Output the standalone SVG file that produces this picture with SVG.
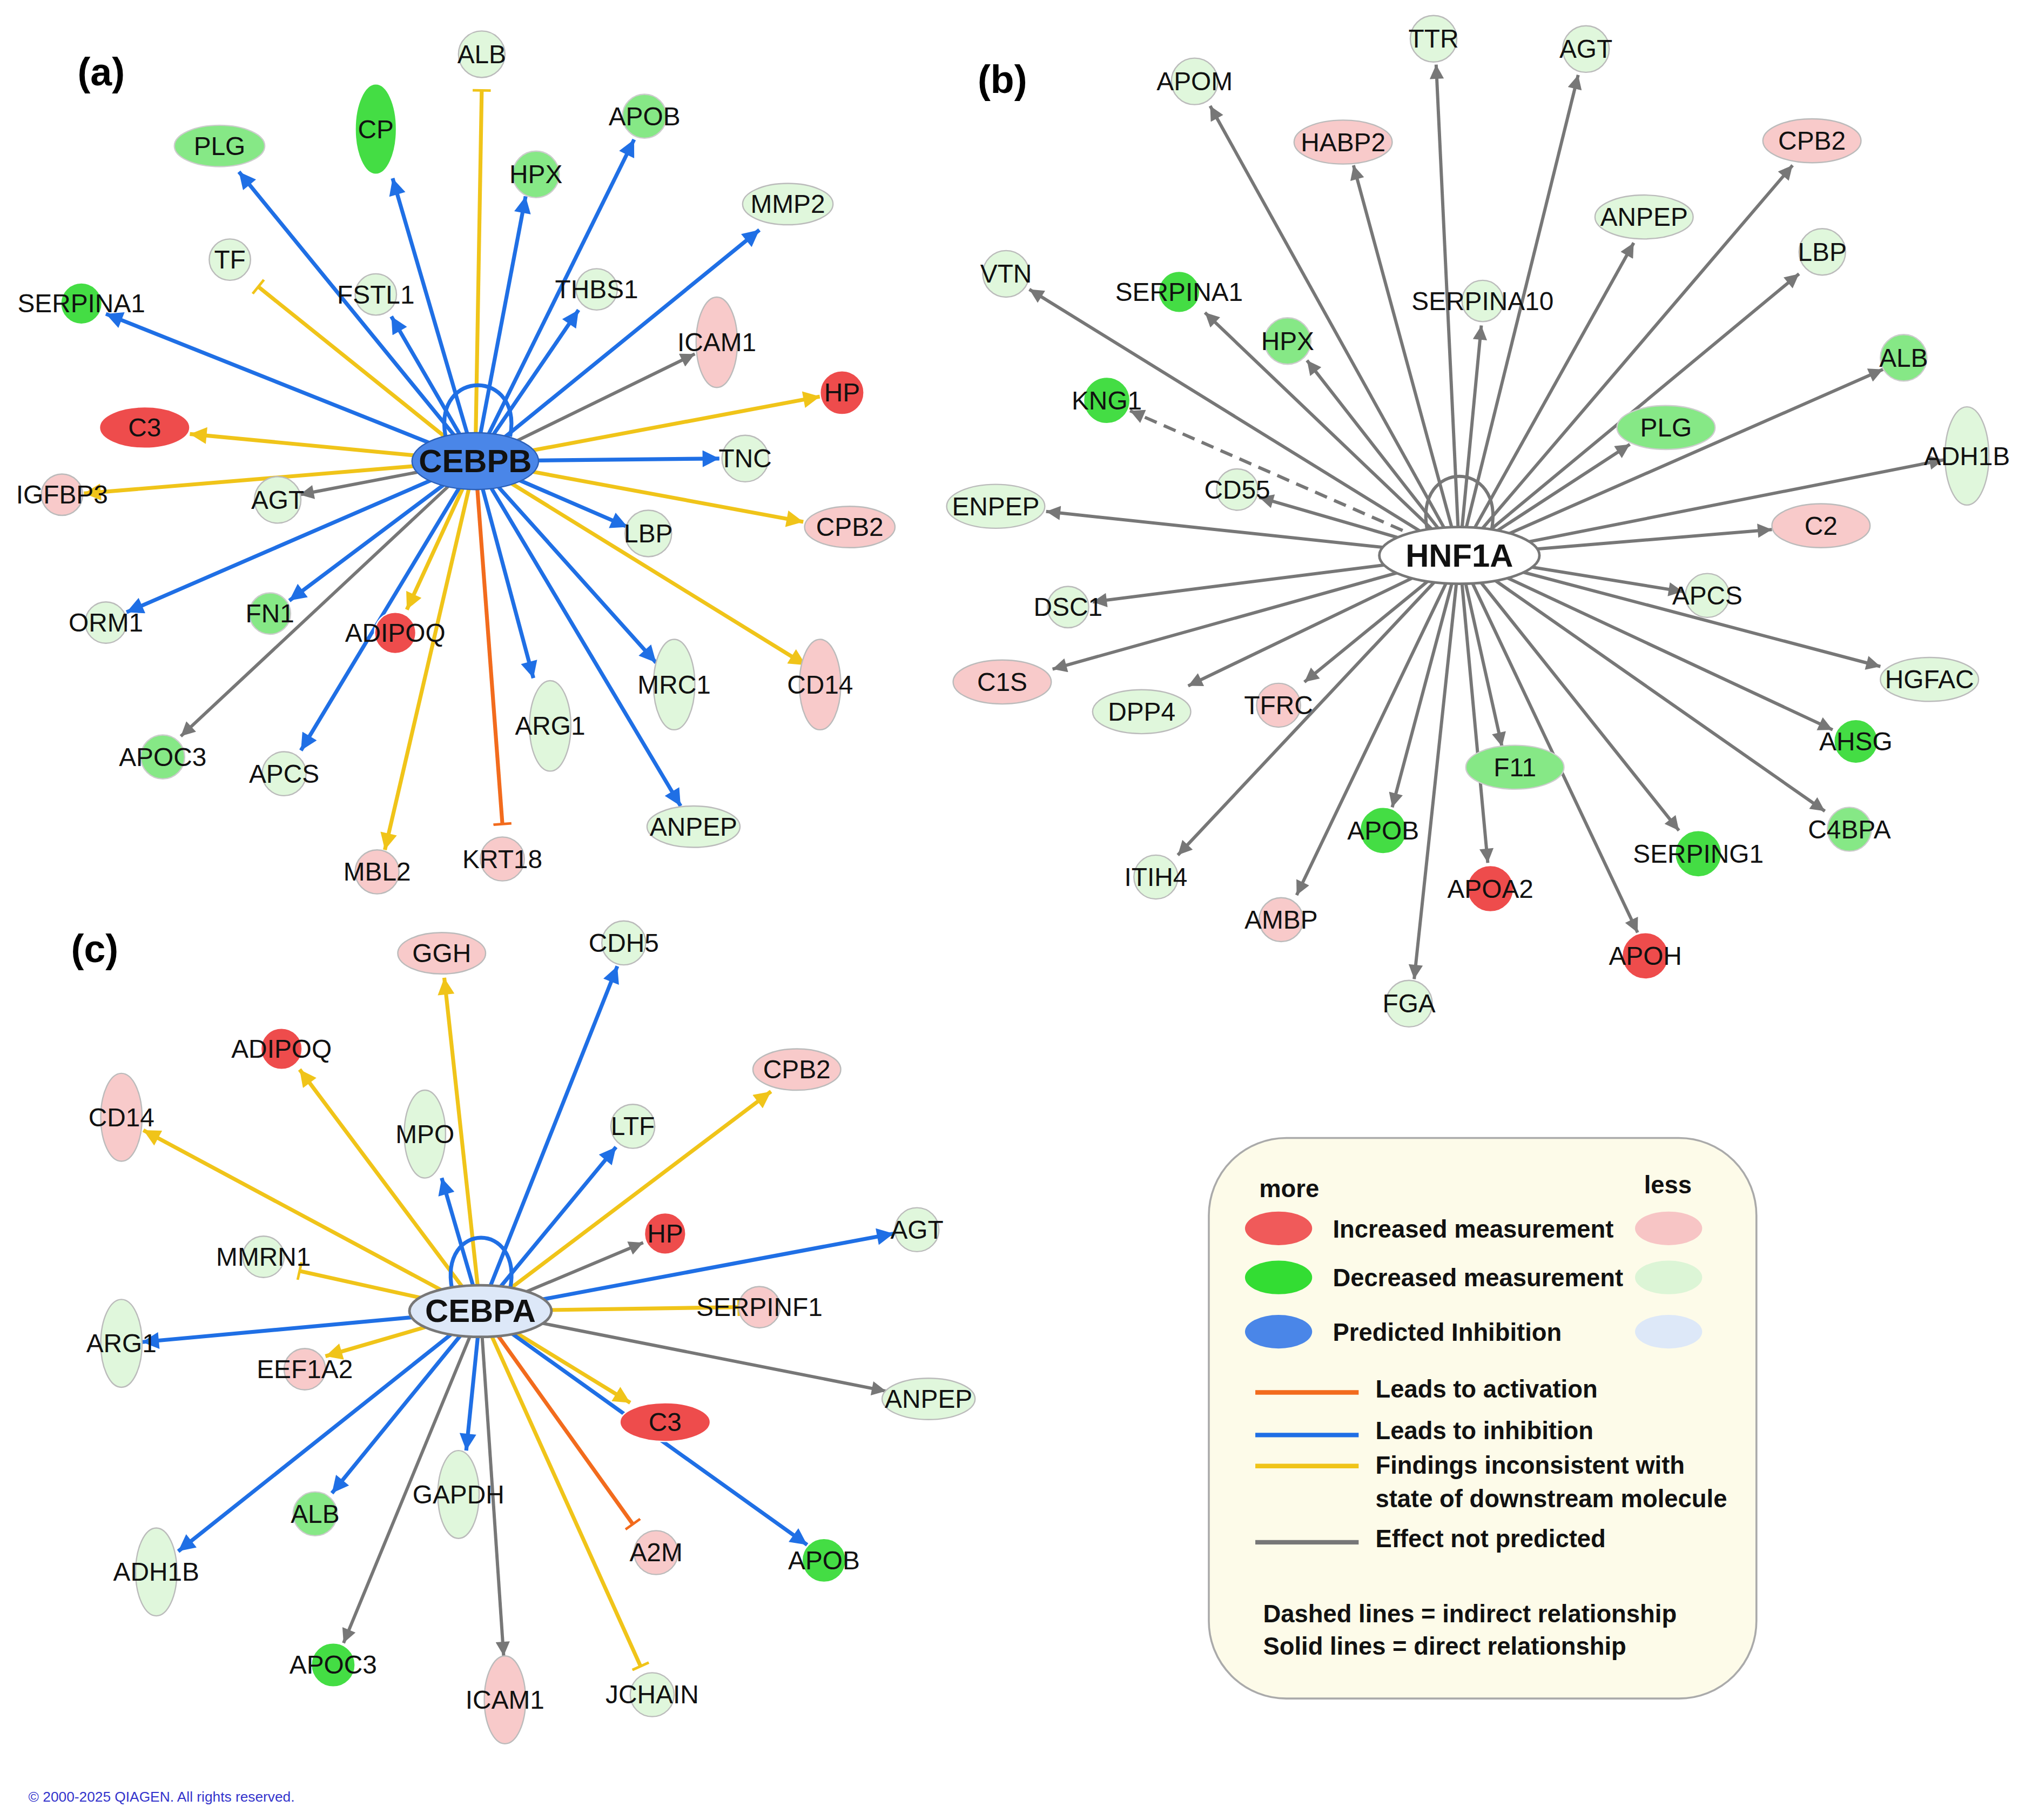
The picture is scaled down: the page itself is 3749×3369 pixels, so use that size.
<svg xmlns="http://www.w3.org/2000/svg" width="3749" height="3369" viewBox="0 0 3749 3369">
<style>
text{font-family:"Liberation Sans",Arial,sans-serif;}
.n{font-size:20px;text-anchor:middle;dominant-baseline:central;fill:#111;}
.h{font-size:25px;font-weight:bold;text-anchor:middle;dominant-baseline:central;fill:#111;}
.r{fill:#ee4c4c;stroke:#fff;}
.p{fill:#f8caca;stroke:#bbb;}
.g{fill:#44dd44;stroke:#fff;}
.lg{fill:#86e886;stroke:#ccc;}
.pg{fill:#e0f7dc;stroke:#bbb;}
.b{stroke:#1f6fe5;stroke-width:3;fill:none;marker-end:url(#ab);}
.y{stroke:#f0c419;stroke-width:3;fill:none;marker-end:url(#ay);}
.yt{stroke:#f0c419;stroke-width:3;fill:none;marker-end:url(#ty);}
.k{stroke:#777;stroke-width:2.5;fill:none;marker-end:url(#ak);}
.ot{stroke:#f26b1d;stroke-width:3;fill:none;marker-end:url(#to);}
.lt{font-size:19px;font-weight:bold;fill:#111;}
</style>
<defs>
<marker id="ab" markerUnits="userSpaceOnUse" viewBox="0 0 10 10" refX="10" refY="5" markerWidth="16" markerHeight="13" orient="auto"><path d="M0,0L10,5L0,10z" fill="#1f6fe5"/></marker>
<marker id="ay" markerUnits="userSpaceOnUse" viewBox="0 0 10 10" refX="10" refY="5" markerWidth="16" markerHeight="13" orient="auto"><path d="M0,0L10,5L0,10z" fill="#f0c419"/></marker>
<marker id="ak" markerUnits="userSpaceOnUse" viewBox="0 0 10 10" refX="10" refY="5" markerWidth="14" markerHeight="11" orient="auto"><path d="M0,0L10,5L0,10z" fill="#777"/></marker>
<marker id="ty" markerUnits="userSpaceOnUse" viewBox="0 0 4 14" refX="2" refY="7" markerWidth="4" markerHeight="14" orient="auto"><path d="M2,0V14" stroke="#f0c419" stroke-width="2"/></marker>
<marker id="to" markerUnits="userSpaceOnUse" viewBox="0 0 4 14" refX="2" refY="7" markerWidth="4" markerHeight="14" orient="auto"><path d="M2,0V14" stroke="#f26b1d" stroke-width="2"/></marker>
</defs>
<rect width="3749" height="3369" fill="#fff"/>
<g transform="scale(2.391)">
<g id="connectors">
<!-- a -->
<path class="yt" d="M368,357L373,70"/>
<path class="b" d="M368,357L304,138"/>
<path class="b" d="M368,357L185,133"/>
<path class="b" d="M368,357L491,108"/>
<path class="b" d="M368,357L407,152"/>
<path class="b" d="M368,357L588,178"/>
<path class="yt" d="M368,357L200,222"/>
<path class="b" d="M368,357L303,245"/>
<path class="b" d="M368,357L448,240"/>
<path class="b" d="M368,357L82,243"/>
<path class="k" d="M368,357L538,274"/>
<path class="y" d="M368,357L635,307"/>
<path class="y" d="M368,357L147,336"/>
<path class="b" d="M368,357L557,355"/>
<path class="y" d="M368,357L65,382"/>
<path class="k" d="M368,357L232,383"/>
<path class="b" d="M368,357L486,408"/>
<path class="y" d="M368,357L622,404"/>
<path class="b" d="M368,357L98,474"/>
<path class="b" d="M368,357L224,465"/>
<path class="y" d="M368,357L315,472"/>
<path class="y" d="M368,357L624,515"/>
<path class="b" d="M368,357L508,513"/>
<path class="b" d="M368,357L413,525"/>
<path class="k" d="M368,357L140,570"/>
<path class="b" d="M368,357L233,581"/>
<path class="b" d="M368,357L527,624"/>
<path class="y" d="M368,357L298,658"/>
<path class="ot" d="M368,357L389,638"/>
<path d="M345,338C335,285 405,285 395,338" stroke="#1f6fe5" stroke-width="3" fill="none"/>
<!-- b -->
<path class="k" d="M1130,430L1112,50"/>
<path class="k" d="M1130,430L1222,58"/>
<path class="k" d="M1130,430L937,82"/>
<path class="k" d="M1130,430L1048,128"/>
<path class="k" d="M1130,430L1388,128"/>
<path class="k" d="M1130,430L1265,188"/>
<path class="k" d="M1130,430L1393,212"/>
<path class="k" d="M1130,430L797,224"/>
<path class="k" d="M1130,430L933,242"/>
<path class="k" d="M1130,430L1147,252"/>
<path class="k" d="M1130,430L1012,279"/>
<path class="k" d="M1130,430L1458,286"/>
<path class="k" d="M1130,430L875,318" stroke-dasharray="10,6"/>
<path class="k" d="M1130,430L1262,344"/>
<path class="k" d="M1130,430L1505,356"/>
<path class="k" d="M1130,430L975,385"/>
<path class="k" d="M1130,430L810,396"/>
<path class="k" d="M1130,430L1372,410"/>
<path class="k" d="M1130,430L1303,458"/>
<path class="k" d="M1130,430L846,466"/>
<path class="k" d="M1130,430L1456,516"/>
<path class="k" d="M1130,430L815,518"/>
<path class="k" d="M1130,430L920,531"/>
<path class="k" d="M1130,430L1010,528"/>
<path class="k" d="M1130,430L1419,565"/>
<path class="k" d="M1130,430L1163,578"/>
<path class="k" d="M1130,430L1413,628"/>
<path class="k" d="M1130,430L1078,625"/>
<path class="k" d="M1130,430L1300,643"/>
<path class="k" d="M1130,430L912,662"/>
<path class="k" d="M1130,430L1152,668"/>
<path class="k" d="M1130,430L1004,693"/>
<path class="k" d="M1130,430L1268,722"/>
<path class="k" d="M1130,430L1095,758"/>
<path d="M1105,410C1095,355 1165,355 1155,410" stroke="#777" stroke-width="2.5" fill="none"/>
<!-- c -->
<path class="y" d="M372,1015L344,757"/>
<path class="b" d="M372,1015L478,748"/>
<path class="y" d="M372,1015L232,828"/>
<path class="y" d="M372,1015L597,845"/>
<path class="y" d="M372,1015L111,875"/>
<path class="b" d="M372,1015L342,912"/>
<path class="b" d="M372,1015L477,888"/>
<path class="k" d="M372,1015L498,962"/>
<path class="b" d="M372,1015L692,955"/>
<path class="yt" d="M372,1015L232,984"/>
<path class="yt" d="M372,1015L572,1012"/>
<path class="b" d="M372,1015L110,1039"/>
<path class="y" d="M372,1015L252,1050"/>
<path class="k" d="M372,1015L686,1077"/>
<path class="y" d="M372,1015L488,1086"/>
<path class="b" d="M372,1015L361,1123"/>
<path class="b" d="M372,1015L257,1156"/>
<path class="ot" d="M372,1015L490,1180"/>
<path class="b" d="M372,1015L625,1196"/>
<path class="b" d="M372,1015L138,1201"/>
<path class="k" d="M372,1015L266,1272"/>
<path class="k" d="M372,1015L390,1282"/>
<path class="yt" d="M372,1015L496,1290"/>
<path d="M350,998C340,945 405,945 395,998" stroke="#1f6fe5" stroke-width="3" fill="none"/>
</g>
<!-- panel a nodes -->
<g id="a-CEBPB"><ellipse cx="368" cy="357" rx="49" ry="22" fill="#4a86e8" stroke="#2a5fb8"/><text class="h" x="368" y="357">CEBPB</text></g>
<g id="a-ALB"><circle cx="373" cy="42" r="18" class="pg"/><text class="n" x="373" y="42">ALB</text></g>
<g id="a-CP"><ellipse cx="291" cy="100" rx="16" ry="35" class="g" fill="#66f066"/><text class="n" x="291" y="100">CP</text></g>
<g id="a-PLG"><ellipse cx="170" cy="113" rx="35" ry="16" class="lg"/><text class="n" x="170" y="113">PLG</text></g>
<g id="a-APOB"><circle cx="499" cy="90" r="17" class="lg"/><text class="n" x="499" y="90">APOB</text></g>
<g id="a-HPX"><circle cx="415" cy="135" r="18" class="lg"/><text class="n" x="415" y="135">HPX</text></g>
<g id="a-MMP2"><ellipse cx="610" cy="158" rx="35" ry="16" class="pg"/><text class="n" x="610" y="158">MMP2</text></g>
<g id="a-TF"><circle cx="178" cy="201" r="16" class="pg"/><text class="n" x="178" y="201">TF</text></g>
<g id="a-FSTL1"><circle cx="291" cy="228" r="16" class="pg"/><text class="n" x="291" y="228">FSTL1</text></g>
<g id="a-THBS1"><circle cx="462" cy="224" r="16" class="pg"/><text class="n" x="462" y="224">THBS1</text></g>
<g id="a-SERPINA1"><circle cx="63" cy="235" r="16" class="g"/><text class="n" x="63" y="235">SERPINA1</text></g>
<g id="a-ICAM1"><ellipse cx="555" cy="265" rx="16" ry="35" class="p"/><text class="n" x="555" y="265">ICAM1</text></g>
<g id="a-HP"><circle cx="652" cy="304" r="17" class="r"/><text class="n" x="652" y="304">HP</text></g>
<g id="a-C3"><ellipse cx="112" cy="331" rx="35" ry="16" class="r"/><text class="n" x="112" y="331">C3</text></g>
<g id="a-TNC"><circle cx="577" cy="355" r="18" class="pg"/><text class="n" x="577" y="355">TNC</text></g>
<g id="a-IGFBP3"><circle cx="48" cy="383" r="16" class="p"/><text class="n" x="48" y="383">IGFBP3</text></g>
<g id="a-AGT"><circle cx="215" cy="387" r="18" class="pg"/><text class="n" x="215" y="387">AGT</text></g>
<g id="a-LBP"><circle cx="502" cy="413" r="18" class="pg"/><text class="n" x="502" y="413">LBP</text></g>
<g id="a-CPB2"><ellipse cx="658" cy="408" rx="35" ry="16" class="p"/><text class="n" x="658" y="408">CPB2</text></g>
<g id="a-ORM1"><circle cx="82" cy="482" r="16" class="pg"/><text class="n" x="82" y="482">ORM1</text></g>
<g id="a-FN1"><circle cx="209" cy="475" r="16" class="lg"/><text class="n" x="209" y="475">FN1</text></g>
<g id="a-ADIPOQ"><circle cx="306" cy="490" r="16" class="r" fill="#ee6666"/><text class="n" x="306" y="490">ADIPOQ</text></g>
<g id="a-CD14"><ellipse cx="635" cy="530" rx="16" ry="35" class="p"/><text class="n" x="635" y="530">CD14</text></g>
<g id="a-MRC1"><ellipse cx="522" cy="530" rx="16" ry="35" class="pg"/><text class="n" x="522" y="530">MRC1</text></g>
<g id="a-ARG1"><ellipse cx="426" cy="562" rx="16" ry="35" class="pg"/><text class="n" x="426" y="562">ARG1</text></g>
<g id="a-APOC3"><circle cx="126" cy="586" r="17" class="lg"/><text class="n" x="126" y="586">APOC3</text></g>
<g id="a-APCS"><circle cx="220" cy="599" r="17" class="pg"/><text class="n" x="220" y="599">APCS</text></g>
<g id="a-ANPEP"><ellipse cx="537" cy="640" rx="36" ry="16" class="pg"/><text class="n" x="537" y="640">ANPEP</text></g>
<g id="a-MBL2"><circle cx="292" cy="675" r="17" class="p"/><text class="n" x="292" y="675">MBL2</text></g>
<g id="a-KRT18"><circle cx="389" cy="665" r="17" class="p"/><text class="n" x="389" y="665">KRT18</text></g>
<!-- panel b nodes -->
<g id="b-HNF1A"><ellipse cx="1130" cy="430" rx="62" ry="22" fill="#fff" stroke="#777" stroke-width="2"/><text class="h" x="1130" y="430">HNF1A</text></g>
<g id="b-TTR"><circle cx="1110" cy="30" r="18" class="pg"/><text class="n" x="1110" y="30">TTR</text></g>
<g id="b-AGT"><circle cx="1228" cy="38" r="18" class="pg"/><text class="n" x="1228" y="38">AGT</text></g>
<g id="b-APOM"><circle cx="925" cy="63" r="18" class="pg"/><text class="n" x="925" y="63">APOM</text></g>
<g id="b-HABP2"><ellipse cx="1040" cy="110" rx="38" ry="17" class="p" fill="#f0a0a0"/><text class="n" x="1040" y="110">HABP2</text></g>
<g id="b-CPB2"><ellipse cx="1403" cy="109" rx="38" ry="17" class="p"/><text class="n" x="1403" y="109">CPB2</text></g>
<g id="b-ANPEP"><ellipse cx="1273" cy="168" rx="38" ry="17" class="pg"/><text class="n" x="1273" y="168">ANPEP</text></g>
<g id="b-LBP"><circle cx="1411" cy="195" r="18" class="pg"/><text class="n" x="1411" y="195">LBP</text></g>
<g id="b-VTN"><circle cx="779" cy="212" r="18" class="pg"/><text class="n" x="779" y="212">VTN</text></g>
<g id="b-SERPINA1"><circle cx="913" cy="226" r="16" class="g"/><text class="n" x="913" y="226">SERPINA1</text></g>
<g id="b-SERPINA10"><circle cx="1148" cy="233" r="16" class="pg"/><text class="n" x="1148" y="233">SERPINA10</text></g>
<g id="b-HPX"><circle cx="997" cy="264" r="18" class="lg"/><text class="n" x="997" y="264">HPX</text></g>
<g id="b-ALB"><circle cx="1474" cy="277" r="18" class="lg"/><text class="n" x="1474" y="277">ALB</text></g>
<g id="b-KNG1"><circle cx="857" cy="310" r="18" class="g"/><text class="n" x="857" y="310">KNG1</text></g>
<g id="b-PLG"><ellipse cx="1290" cy="331" rx="38" ry="17" class="lg"/><text class="n" x="1290" y="331">PLG</text></g>
<g id="b-ADH1B"><ellipse cx="1523" cy="353" rx="17" ry="38" class="pg"/><text class="n" x="1523" y="353">ADH1B</text></g>
<g id="b-CD55"><circle cx="958" cy="379" r="16" class="pg"/><text class="n" x="958" y="379">CD55</text></g>
<g id="b-ENPEP"><ellipse cx="771" cy="392" rx="38" ry="17" class="pg"/><text class="n" x="771" y="392">ENPEP</text></g>
<g id="b-C2"><ellipse cx="1410" cy="407" rx="38" ry="17" class="p"/><text class="n" x="1410" y="407">C2</text></g>
<g id="b-APCS"><circle cx="1322" cy="461" r="17" class="pg"/><text class="n" x="1322" y="461">APCS</text></g>
<g id="b-DSC1"><circle cx="827" cy="470" r="16" class="pg"/><text class="n" x="827" y="470">DSC1</text></g>
<g id="b-HGFAC"><ellipse cx="1494" cy="526" rx="38" ry="17" class="pg"/><text class="n" x="1494" y="526">HGFAC</text></g>
<g id="b-C1S"><ellipse cx="776" cy="528" rx="38" ry="17" class="p"/><text class="n" x="776" y="528">C1S</text></g>
<g id="b-DPP4"><ellipse cx="884" cy="551" rx="38" ry="17" class="pg"/><text class="n" x="884" y="551">DPP4</text></g>
<g id="b-TFRC"><circle cx="990" cy="546" r="17" class="p"/><text class="n" x="990" y="546">TFRC</text></g>
<g id="b-AHSG"><circle cx="1437" cy="574" r="17" class="g"/><text class="n" x="1437" y="574">AHSG</text></g>
<g id="b-F11"><ellipse cx="1173" cy="594" rx="38" ry="17" class="lg" fill="#b8f0b0"/><text class="n" x="1173" y="594">F11</text></g>
<g id="b-C4BPA"><circle cx="1432" cy="642" r="17" class="lg"/><text class="n" x="1432" y="642">C4BPA</text></g>
<g id="b-APOB"><circle cx="1071" cy="643" r="18" class="g"/><text class="n" x="1071" y="643">APOB</text></g>
<g id="b-SERPING1"><circle cx="1315" cy="661" r="18" class="g"/><text class="n" x="1315" y="661">SERPING1</text></g>
<g id="b-ITIH4"><circle cx="895" cy="679" r="17" class="pg"/><text class="n" x="895" y="679">ITIH4</text></g>
<g id="b-APOA2"><circle cx="1154" cy="688" r="18" class="r"/><text class="n" x="1154" y="688">APOA2</text></g>
<g id="b-AMBP"><circle cx="992" cy="712" r="17" class="p"/><text class="n" x="992" y="712">AMBP</text></g>
<g id="b-APOH"><circle cx="1274" cy="740" r="18" class="r"/><text class="n" x="1274" y="740">APOH</text></g>
<g id="b-FGA"><circle cx="1091" cy="777" r="18" class="pg"/><text class="n" x="1091" y="777">FGA</text></g>
<!-- panel c nodes -->
<g id="c-CEBPA"><ellipse cx="372" cy="1015" rx="55" ry="20" fill="#dde8f8" stroke="#777" stroke-width="2"/><text class="h" x="372" y="1015">CEBPA</text></g>
<g id="c-GGH"><ellipse cx="342" cy="738" rx="34" ry="16" class="p"/><text class="n" x="342" y="738">GGH</text></g>
<g id="c-CDH5"><circle cx="483" cy="730" r="17" class="pg"/><text class="n" x="483" y="730">CDH5</text></g>
<g id="c-ADIPOQ"><circle cx="218" cy="812" r="16" class="r"/><text class="n" x="218" y="812">ADIPOQ</text></g>
<g id="c-CPB2"><ellipse cx="617" cy="828" rx="34" ry="16" class="p"/><text class="n" x="617" y="828">CPB2</text></g>
<g id="c-CD14"><ellipse cx="94" cy="865" rx="16" ry="34" class="p"/><text class="n" x="94" y="865">CD14</text></g>
<g id="c-MPO"><ellipse cx="329" cy="878" rx="16" ry="34" class="pg"/><text class="n" x="329" y="878">MPO</text></g>
<g id="c-LTF"><circle cx="490" cy="872" r="17" class="pg"/><text class="n" x="490" y="872">LTF</text></g>
<g id="c-HP"><circle cx="515" cy="955" r="16" class="r"/><text class="n" x="515" y="955">HP</text></g>
<g id="c-AGT"><circle cx="710" cy="952" r="17" class="pg"/><text class="n" x="710" y="952">AGT</text></g>
<g id="c-MMRN1"><circle cx="204" cy="973" r="16" class="pg"/><text class="n" x="204" y="973">MMRN1</text></g>
<g id="c-SERPINF1"><circle cx="588" cy="1012" r="16" class="p"/><text class="n" x="588" y="1012">SERPINF1</text></g>
<g id="c-ARG1"><ellipse cx="94" cy="1040" rx="16" ry="34" class="pg"/><text class="n" x="94" y="1040">ARG1</text></g>
<g id="c-EEF1A2"><circle cx="236" cy="1060" r="16" class="p"/><text class="n" x="236" y="1060">EEF1A2</text></g>
<g id="c-ANPEP"><ellipse cx="719" cy="1083" rx="36" ry="16" class="pg"/><text class="n" x="719" y="1083">ANPEP</text></g>
<g id="c-C3"><ellipse cx="515" cy="1101" rx="35" ry="15" class="r"/><text class="n" x="515" y="1101">C3</text></g>
<g id="c-GAPDH"><ellipse cx="355" cy="1157" rx="16" ry="34" class="pg"/><text class="n" x="355" y="1157">GAPDH</text></g>
<g id="c-ALB"><circle cx="244" cy="1172" r="17" class="lg"/><text class="n" x="244" y="1172">ALB</text></g>
<g id="c-A2M"><circle cx="508" cy="1202" r="17" class="p"/><text class="n" x="508" y="1202">A2M</text></g>
<g id="c-APOB"><circle cx="638" cy="1208" r="17" class="g"/><text class="n" x="638" y="1208">APOB</text></g>
<g id="c-ADH1B"><ellipse cx="121" cy="1217" rx="16" ry="34" class="pg"/><text class="n" x="121" y="1217">ADH1B</text></g>
<g id="c-APOC3"><circle cx="258" cy="1289" r="17" class="g"/><text class="n" x="258" y="1289">APOC3</text></g>
<g id="c-ICAM1"><ellipse cx="391" cy="1316" rx="16" ry="34" class="p"/><text class="n" x="391" y="1316">ICAM1</text></g>
<g id="c-JCHAIN"><circle cx="505" cy="1312" r="17" class="pg"/><text class="n" x="505" y="1312">JCHAIN</text></g>
<!-- labels -->
<text x="60" y="66" font-size="30" font-weight="bold">(a)</text>
<text x="757" y="72" font-size="30" font-weight="bold">(b)</text>
<text x="55" y="745" font-size="30" font-weight="bold">(c)</text>
<text x="22" y="1395" font-size="11" fill="#3333cc">© 2000-2025 QIAGEN. All rights reserved.</text>
<!-- legend -->
<g id="legend">
<rect x="936" y="881" width="424" height="434" rx="60" fill="#fdfbe9" stroke="#aaa" stroke-width="1.5"/>
<text class="lt" x="975" y="927">more</text>
<text class="lt" x="1273" y="924">less</text>
<ellipse cx="990" cy="951" rx="26" ry="13" fill="#f05a5a"/>
<ellipse cx="1292" cy="951" rx="26" ry="13" fill="#f7c5c5"/>
<ellipse cx="990" cy="989" rx="26" ry="13" fill="#33dd33"/>
<ellipse cx="1292" cy="989" rx="26" ry="13" fill="#dcf5d6"/>
<ellipse cx="990" cy="1031" rx="26" ry="13" fill="#4a86e8"/>
<ellipse cx="1292" cy="1031" rx="26" ry="13" fill="#dde8f8"/>
<text class="lt" x="1032" y="958">Increased measurement</text>
<text class="lt" x="1032" y="996">Decreased measurement</text>
<text class="lt" x="1032" y="1038">Predicted Inhibition</text>
<path d="M972,1078H1052" stroke="#f26b1d" stroke-width="3.5"/>
<path d="M972,1111H1052" stroke="#1f6fe5" stroke-width="3.5"/>
<path d="M972,1135H1052" stroke="#f0c419" stroke-width="3.5"/>
<path d="M972,1194H1052" stroke="#777" stroke-width="3.5"/>
<text class="lt" x="1065" y="1082">Leads to activation</text>
<text class="lt" x="1065" y="1114">Leads to inhibition</text>
<text class="lt" x="1065" y="1141">Findings inconsistent with</text>
<text class="lt" x="1065" y="1167">state of downstream molecule</text>
<text class="lt" x="1065" y="1198">Effect not predicted</text>
<text class="lt" x="978" y="1256">Dashed lines = indirect relationship</text>
<text class="lt" x="978" y="1281">Solid lines = direct relationship</text>
</g>
</g>
</svg>
